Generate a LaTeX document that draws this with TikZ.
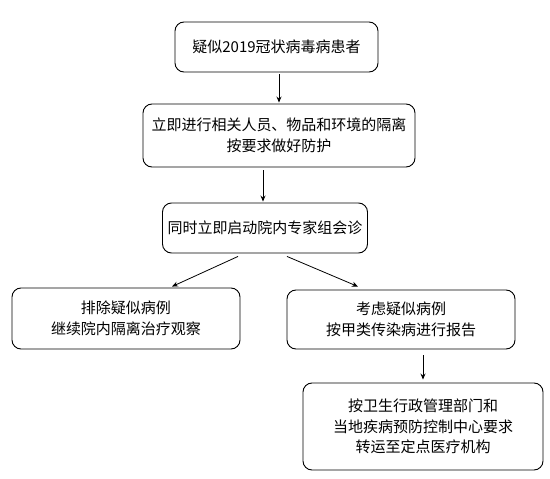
\documentclass[tikz,border=0pt]{standalone}
\usepackage{fontspec}
\setmainfont{Noto Sans CJK SC}
\usetikzlibrary{arrows.meta,calc}
\begin{document}
\begin{tikzpicture}[x=1pt,y=-1pt,
  box/.style={draw=black,line width=0.9pt,rounded corners=9pt,align=center,inner sep=0pt,
    font=\fontsize{15}{20.5}\selectfont,text=black},
  arr/.style={draw=black,line width=0.8pt,-{Stealth[length=6pt,width=5pt]}}]
\useasboundingbox (0,0) rectangle (550,479);
\node[box,minimum width=203pt,minimum height=50pt] (b1) at (276.5,47) {疑似2019冠状病毒病患者};
\node[box,minimum width=272pt,minimum height=63pt] (b2) at (279,135.5) {立即进行相关人员、物品和环境的隔离\\按要求做好防护};
\node[box,minimum width=205pt,minimum height=50pt] (b3) at (265,228) {同时立即启动院内专家组会诊};
\node[box,minimum width=228pt,minimum height=61pt] (b4) at (126,318.5) {排除疑似病例\\继续院内隔离治疗观察};
\node[box,minimum width=228pt,minimum height=59pt] (b5) at (401,319.5) {考虑疑似病例\\按甲类传染病进行报告};
\node[box,minimum width=240pt,minimum height=87pt] (b6) at (423,426.5) {按卫生行政管理部门和\\当地疾病预防控制中心要求\\转运至定点医疗机构};
\draw[arr] ($(b1.south)+(2.5,2)$) -- ($(b2.north)+(0,-1)$);
\draw[arr] ($(b2.south)+(-16,3)$) -- ($(b3.north)+(-2,-1)$);
\draw[arr] ($(b3.south)+(-27,3)$) -- ($(b4.north)+(46,-1)$);
\draw[arr] ($(b3.south)+(22,3)$) -- ($(b5.north)+(-43,-3)$);
\draw[arr] ($(b5.south)+(22,6)$) -- ($(b6.north)+(0,-3)$);
\end{tikzpicture}
\end{document}
